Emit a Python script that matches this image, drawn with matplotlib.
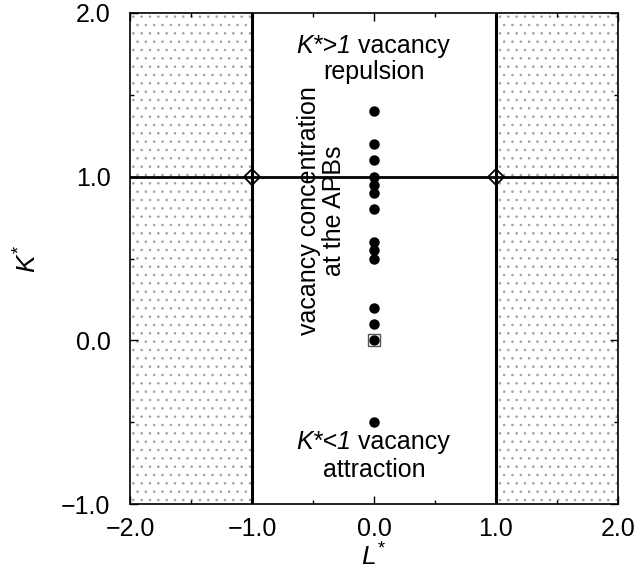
import matplotlib
matplotlib.use("Agg")
import matplotlib.pyplot as plt
import numpy as np

plt.rcParams['font.family'] = ['Liberation Sans', 'DejaVu Sans']
plt.rcParams['mathtext.fontset'] = 'custom'
plt.rcParams['mathtext.it'] = 'Liberation Sans:italic'
plt.rcParams['mathtext.rm'] = 'Liberation Sans'
plt.rcParams['hatch.linewidth'] = 0.6

# data
L_points = [0.0] * 14
K_points = [1.4, 1.2, 1.1, 1.0, 0.95, 0.9, 0.8, 0.6, 0.55, 0.5, 0.2, 0.1, 0.0, -0.5]
L_diamonds = [-1.0, 1.0]
K_diamonds = [1.0, 1.0]
L_square = [0.0]
K_square = [0.0]
xticks = [-2.0, -1.0, 0.0, 1.0, 2.0]
yticks = [-1.0, 0.0, 1.0, 2.0]

fig = plt.figure(figsize=(6.38, 5.78), dpi=100)
ax = fig.add_axes([130/638, 1-504/578, 488/638, 491/578])
ax.set_xlim(-2, 2)
ax.set_ylim(-1, 2)

# stippled regions |L| > 1
for x0, x1 in [(-2, -1), (1, 2)]:
    ax.fill_between([x0, x1], -1, 2, facecolor='white', hatch='..', edgecolor='#a0a0a0', linewidth=0, zorder=0)

ax.axvline(-1, color='black', lw=2.2, zorder=2)
ax.axvline(1, color='black', lw=2.2, zorder=2)
ax.axhline(1, color='black', lw=2.0, zorder=2)

ax.plot(L_points, K_points, 'o', color='black', ms=6.5, zorder=4)
ax.plot(L_square, K_square, 's', mfc='none', mec='#555555', mew=1.0, ms=9, zorder=5)
ax.plot(L_diamonds, K_diamonds, 'D', mfc='none', mec='black', mew=1.3, ms=8, zorder=5)

ax.set_xticks(xticks)
ax.set_yticks(yticks)
ax.set_xticklabels([f"{v:.1f}".replace('-', '\u2212') for v in xticks])
ax.set_yticklabels([f"{v:.1f}".replace('-', '\u2212') for v in yticks])
ax.set_xticks(np.arange(-2, 2.01, 0.5), minor=True)
ax.set_yticks(np.arange(-1, 2.01, 0.5), minor=True)
ax.tick_params(which='both', direction='in', top=True, right=True, labelsize=18)
ax.tick_params(axis='x', which='major', pad=9)
ax.tick_params(axis='y', which='major', pad=14)
ax.tick_params(which='major', length=6, width=1.0)
ax.tick_params(which='minor', length=3, width=1.0)
for s in ax.spines.values():
    s.set_linewidth(1.2)

ax.set_xlabel(r'$L^{*}$', fontsize=19, labelpad=2)
ax.set_ylabel(r'$K^{*}$', fontsize=19, labelpad=14)

fs = 18
ax.text(-0.19, 1.80, 'K*>1', style='italic', fontsize=fs, ha='right', va='center')
ax.text(-0.19, 1.80, ' vacancy', fontsize=fs, ha='left', va='center')
ax.text(0, 1.64, 'repulsion', fontsize=fs, ha='center', va='center')
ax.text(-0.19, -0.62, 'K*<1', style='italic', fontsize=fs, ha='right', va='center')
ax.text(-0.19, -0.62, ' vacancy', fontsize=fs, ha='left', va='center')
ax.text(0, -0.79, 'attraction', fontsize=fs, ha='center', va='center')
ax.text(-0.43, 0.79, 'vacancy concentration\nat the APBs', rotation=90, fontsize=fs,
        ha='center', va='center', linespacing=1.1, multialignment='center')

fig.savefig('out.png', dpi=100)
